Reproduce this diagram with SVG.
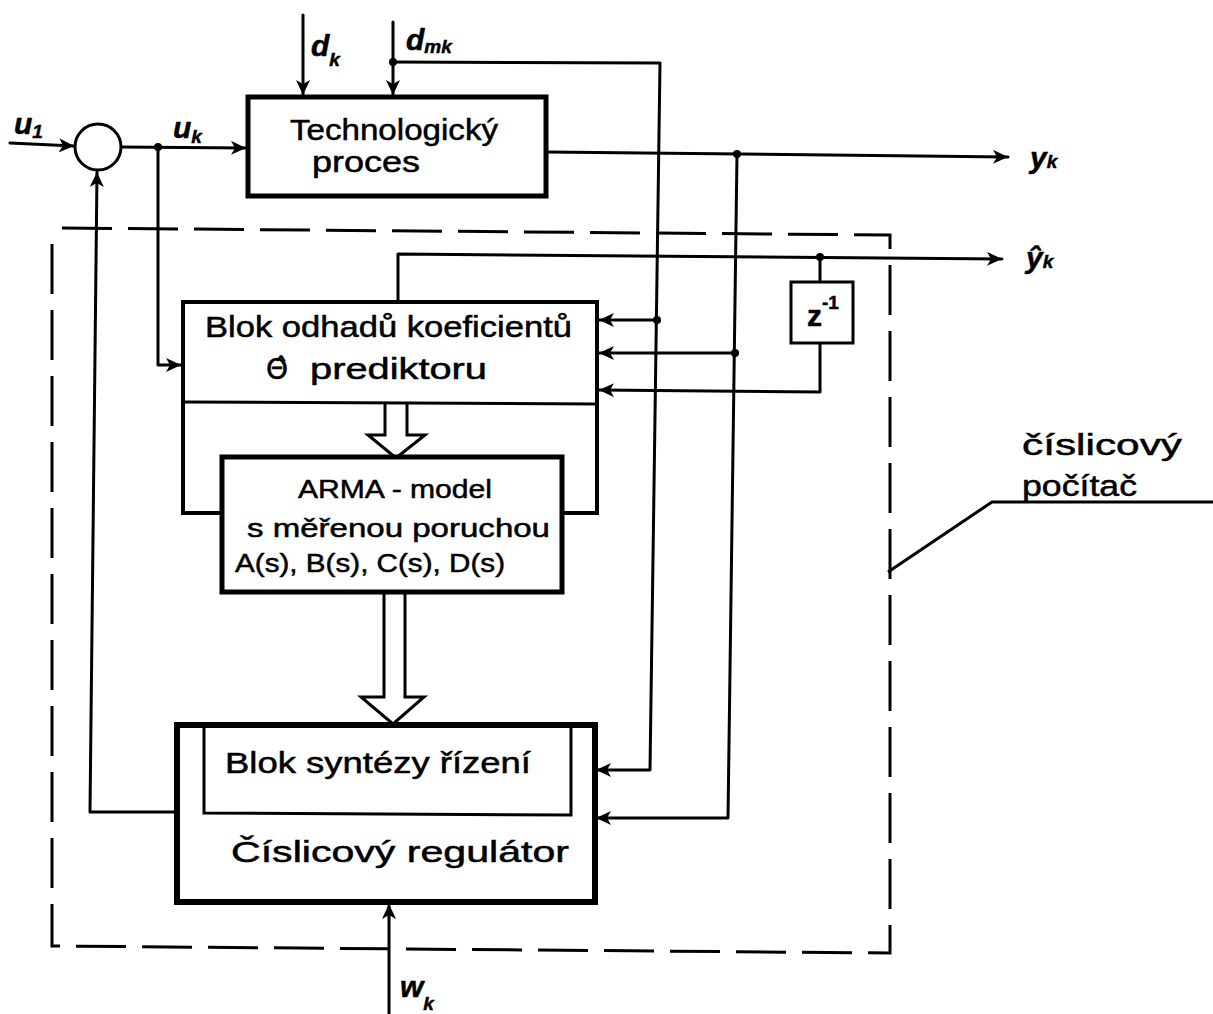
<svg xmlns="http://www.w3.org/2000/svg" width="1213" height="1014" viewBox="0 0 1213 1014">
<style>
  .ln{fill:none;stroke:#000;stroke-width:3;stroke-linejoin:round;stroke-linecap:round}
  .box{fill:#fff;stroke:#000;stroke-width:5;stroke-linejoin:miter}
  .thin{fill:none;stroke:#000;stroke-width:3}
  .dash{fill:none;stroke:#000;stroke-width:3;stroke-dasharray:50 16}
  .hollow{fill:#fff;stroke:#000;stroke-width:3;stroke-linejoin:miter}
  .dot{fill:#000}
  text{font-family:"Liberation Sans","DejaVu Sans",sans-serif;fill:#000;stroke:#000;stroke-width:0.5}
  .t{font-size:29px}
  .m{font-size:26px}
  .lab{font-size:30px;font-style:italic;font-weight:bold}
  .sub{font-size:19px;font-weight:bold}
  .theta{font-family:"DejaVu Sans",sans-serif;font-size:28px}
</style>
<defs>
  <marker id="ah" markerUnits="userSpaceOnUse" markerWidth="16" markerHeight="14" refX="15" refY="7" orient="auto">
    <path d="M0,0 L15,7 L0,14 L4,7 Z" fill="#000"/>
  </marker>
</defs>

<g id="computer-boundary">
  <path class="dash" d="M62,228 L890,235 L890,953 L52,946 L52,228"/>
  <path class="thin" d="M888,572 L992,502 L1213,502"/>
  <text class="t" x="1022" y="455" textLength="160" lengthAdjust="spacingAndGlyphs">číslicový</text>
  <text class="t" x="1022" y="496" textLength="115" lengthAdjust="spacingAndGlyphs">počítač</text>
</g>

<g id="connectors">
  <path class="ln" d="M10,143 L74,146" marker-end="url(#ah)"/>
  <path class="ln" d="M121,147 L246,148" marker-end="url(#ah)"/>
  <path class="ln" d="M158,147 L158,365 L181,365" marker-end="url(#ah)"/>
  <path class="ln" d="M177,812 L90,812 L97,172" marker-end="url(#ah)"/>
  <path class="ln" d="M303,15 L303,95" marker-end="url(#ah)"/>
  <path class="ln" d="M393,22 L393,95" marker-end="url(#ah)"/>
  <path class="ln" d="M393,62 L660,63 L650,770 L596,770" marker-end="url(#ah)"/>
  <path class="ln" d="M657,320 L599,320" marker-end="url(#ah)"/>
  <path class="ln" d="M547,152 L1008,157" marker-end="url(#ah)"/>
  <path class="ln" d="M737,154 L728,818 L596,818" marker-end="url(#ah)"/>
  <path class="ln" d="M735,353 L599,353" marker-end="url(#ah)"/>
  <path class="ln" d="M398,300 L398,254 L1002,259" marker-end="url(#ah)"/>
  <path class="ln" d="M820,257 L820,282"/>
  <path class="ln" d="M820,343 L820,392 L599,390" marker-end="url(#ah)"/>
  <path class="ln" d="M389,1014 L389,904" marker-end="url(#ah)"/>
  <circle class="dot" cx="158" cy="147" r="4"/>
  <circle class="dot" cx="393" cy="62" r="4"/>
  <circle class="dot" cx="657" cy="320" r="4"/>
  <circle class="dot" cx="737" cy="154" r="4"/>
  <circle class="dot" cx="735" cy="353" r="4"/>
  <circle class="dot" cx="820" cy="257" r="4"/>
  <path class="hollow" d="M385,404 L385,435 L368,435 L396,458 L425,435 L407,435 L407,404"/>
  <path class="hollow" d="M384,593 L384,697 L361,697 L393,724 L424,697 L405,697 L405,593"/>
  <text class="lab" x="14" y="134">u<tspan class="sub" dy="4">1</tspan></text>
  <text class="lab" x="173" y="138">u<tspan class="sub" dy="5">k</tspan></text>
  <text class="lab" x="311" y="56">d<tspan class="sub" dy="10">k</tspan></text>
  <text class="lab" x="406" y="50">d<tspan class="sub" dy="3">mk</tspan></text>
  <text class="lab" x="1030" y="168">y<tspan class="sub" dy="0">k</tspan></text>
  <text class="lab" x="1026" y="268">ŷ<tspan class="sub" dy="0">k</tspan></text>
  <text class="lab" x="400" y="997">w<tspan class="sub" dy="13">k</tspan></text>
</g>

<g id="sum">
  <circle cx="98" cy="147" r="23" fill="#fff" stroke="#000" stroke-width="3"/>
</g>

<g id="process">
  <rect class="box" x="248" y="97" width="298" height="99"/>
  <text class="t" x="290" y="140" textLength="208" lengthAdjust="spacingAndGlyphs">Technologický</text>
  <text class="t" x="312" y="172" textLength="108" lengthAdjust="spacingAndGlyphs">proces</text>
</g>

<g id="estimator">
  <path fill="#fff" stroke="none" d="M183,302 L597,302 L597,402 L183,402 Z"/>
  <path class="box" style="fill:none;stroke-width:4" d="M222,513 L183,513 L183,302 L597,302 L597,513 L562,513"/>
  <path class="thin" d="M183,402 L597,404"/>
  <text class="t" x="205" y="337" textLength="367" lengthAdjust="spacingAndGlyphs">Blok odhadů koeficientů</text>
  <text class="theta" x="266" y="379">Θ̂</text>
  <text class="t" x="310" y="379" textLength="177" lengthAdjust="spacingAndGlyphs">prediktoru</text>
</g>

<g id="arma">
  <rect class="box" x="222" y="457" width="340" height="135"/>
  <text class="m" x="298" y="498" textLength="194" lengthAdjust="spacingAndGlyphs">ARMA - model</text>
  <text class="m" x="247" y="537" textLength="303" lengthAdjust="spacingAndGlyphs">s měřenou poruchou</text>
  <text class="m" x="235" y="572" textLength="270" lengthAdjust="spacingAndGlyphs">A(s), B(s), C(s), D(s)</text>
</g>

<g id="delay">
  <rect x="791" y="282" width="62" height="61" fill="#fff" stroke="#000" stroke-width="3"/>
  <text class="lab" x="807" y="326" style="font-style:normal">z<tspan class="sub" dy="-17">-1</tspan></text>
</g>

<g id="regulator">
  <rect class="box" style="stroke-width:6" x="177" y="725" width="418" height="177"/>
  <path class="thin" d="M204,725 L204,813 L571,815 L571,725"/>
  <text class="t" x="225" y="773" textLength="306" lengthAdjust="spacingAndGlyphs">Blok syntézy řízení</text>
  <text class="t" x="231" y="862" textLength="338" lengthAdjust="spacingAndGlyphs">Číslicový regulátor</text>
</g>
</svg>
